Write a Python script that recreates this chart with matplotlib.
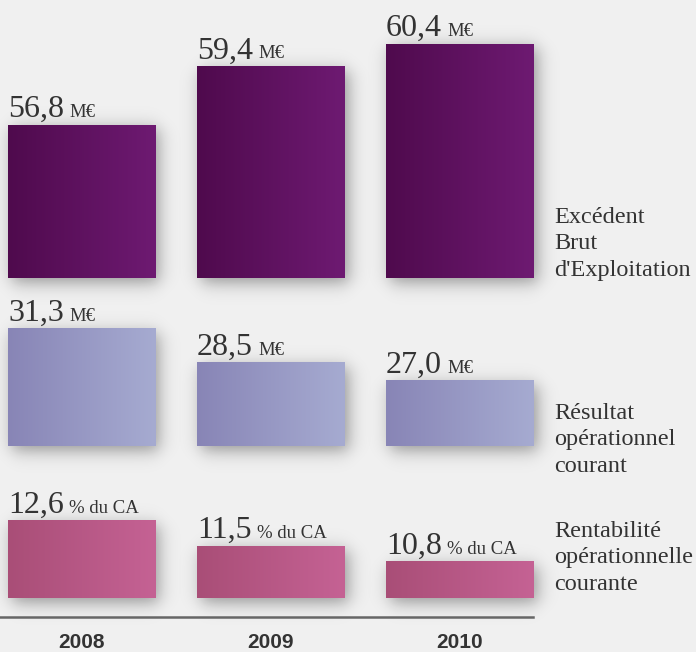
import numpy as np
import matplotlib
matplotlib.use("Agg")
import matplotlib.pyplot as plt
from matplotlib.lines import Line2D
from matplotlib.colors import LinearSegmentedColormap
from matplotlib.transforms import ScaledTranslation

# --------------------------------------------------------------------
# Data
# --------------------------------------------------------------------
years = ["2008", "2009", "2010"]
ebe = [56.8, 59.4, 60.4]          # M€
roc = [31.3, 28.5, 27.0]          # M€
rent = [12.6, 11.5, 10.8]         # % du CA
ebe_labels = ["56,8", "59,4", "60,4"]
roc_labels = ["31,3", "28,5", "27,0"]
rent_labels = ["12,6", "11,5", "10,8"]
row_names = ["Excédent\nBrut\nd'Exploitation",
             "Résultat\nopérationnel\ncourant",
             "Rentabilité\nopérationnelle\ncourante"]

BG = "#f0f0f0"
W, H = 696, 652
SERIF = ["Liberation Serif", "DejaVu Serif"]

# row layout: top px, bottom px, baseline value, px per unit
rows = [
    dict(vals=ebe, labels=ebe_labels, unit="M€", top=0, bot=278, base=50.0, scale=22.5,
         colors=("#4f0a4d", "#6e1a72")),
    dict(vals=roc, labels=roc_labels, unit="M€", top=300, bot=446, base=21.62, scale=12.09,
         colors=("#8885b6", "#a6abd1")),
    dict(vals=rent, labels=rent_labels, unit="% du CA", top=490, bot=598, base=9.22, scale=22.8,
         colors=("#a94e77", "#c56294")),
]


def soft_step(t, s):
    return 1.0 / (1.0 + np.exp(-t / s))


def add_shadow(ax, x0, y0, bw, bh, dx=4, dy=-5, sigma=5.0, pad=28, strength=0.38):
    """Blurred drop shadow behind a bar, sized in pixels."""
    bb = ax.get_window_extent()
    xr, yr = ax.get_xlim(), ax.get_ylim()
    ppx = bb.width / (xr[1] - xr[0])     # px per data unit (x)
    ppy = bb.height / (yr[1] - yr[0])    # px per data unit (y)
    wpx, hpx = bw * ppx, bh * ppy
    xs = np.arange(-pad, wpx + pad, 1.0)
    ys = np.arange(-pad, hpx + pad, 1.0)
    px = soft_step(xs - dx, sigma) * soft_step(wpx + dx - xs, sigma)
    py = soft_step(ys - dy, sigma) * soft_step(hpx + dy - ys, sigma)
    # image rows run top to bottom -> flip y
    a = np.outer(py[::-1], px)
    img = np.zeros(a.shape + (4,))
    img[..., 3] = strength * a
    ax.imshow(img, extent=(x0 - pad / ppx, x0 + bw + pad / ppx,
                           y0 - pad / ppy, y0 + bh + pad / ppy),
              aspect="auto", zorder=1, interpolation="bilinear", clip_on=False)


fig = plt.figure(figsize=(W / 100, H / 100), dpi=100, facecolor=BG)
x = np.arange(len(years))
xlim = (-0.431, 2.389)
axes_right = 533 / W

axes = []
for r in rows:
    height_px = r["bot"] - r["top"]
    ax = fig.add_axes([0, 1 - r["bot"] / H, axes_right, height_px / H])
    ax.set_facecolor("none")
    for s in ax.spines.values():
        s.set_visible(False)
    ax.set_yticks([])
    ax.set_xticks([])
    ylim = (r["base"], r["base"] + height_px / r["scale"])
    ax.set_xlim(*xlim)
    ax.set_ylim(*ylim)

    vals = np.array(r["vals"])
    bars = ax.bar(x, vals - r["base"], bottom=r["base"], width=0.778,
                  color="none", zorder=3)
    cmap = LinearSegmentedColormap.from_list("g", r["colors"])
    grad = np.linspace(0, 1, 256).reshape(1, -1)
    for b in bars:
        x0, y0 = b.get_x(), b.get_y()
        bw, bh = b.get_width(), b.get_height()
        add_shadow(ax, x0, y0, bw, bh)
        ax.imshow(grad, cmap=cmap, extent=(x0, x0 + bw, y0, y0 + bh),
                  aspect="auto", zorder=2, interpolation="bicubic")
    ax.set_xlim(*xlim)
    ax.set_ylim(*ylim)
    r["bars"] = bars
    axes.append(ax)

# value labels: big number + smaller unit
renderer = fig.canvas.get_renderer()
for ax, r in zip(axes, rows):
    for b, lab in zip(r["bars"], r["labels"]):
        off = ScaledTranslation(0, 8 / 100, fig.dpi_scale_trans)
        top = b.get_y() + b.get_height()
        t = ax.text(b.get_x(), top, lab, fontsize=23,
                    family=SERIF, color="#333333", ha="left", va="baseline",
                    transform=ax.transData + off, clip_on=False)
        ext = t.get_window_extent(renderer)
        small = r["unit"] == "M€"
        xu = ax.transData.inverted().transform((ext.x1 + (6 if small else 5), 0))[0]
        ax.text(xu, top, r["unit"], fontsize=13.5,
                family=SERIF, color="#333333", ha="left", va="baseline",
                transform=ax.transData + off, clip_on=False)

# row titles on the right
title_tops = [216, 412, 530]
for name, yc in zip(row_names, title_tops):
    fig.text(554 / W, 1 - (yc - 9) / H, name, fontsize=17.5, family=SERIF,
             color="#333333", ha="left", va="top", linespacing=1.33)

# baseline rule and year labels
fig.add_artist(Line2D([0, axes_right], [1 - 617 / H, 1 - 617 / H],
                      transform=fig.transFigure, color="#666666", linewidth=1.8))
ax3 = axes[-1]
ax3.set_xticks(x)
ax3.set_xticklabels(years, fontsize=15, fontweight="bold", family="Liberation Sans",
                    color="#333333")
ax3.tick_params(axis="x", length=0, pad=25)

fig.savefig("out.png", dpi=100, facecolor=BG)
